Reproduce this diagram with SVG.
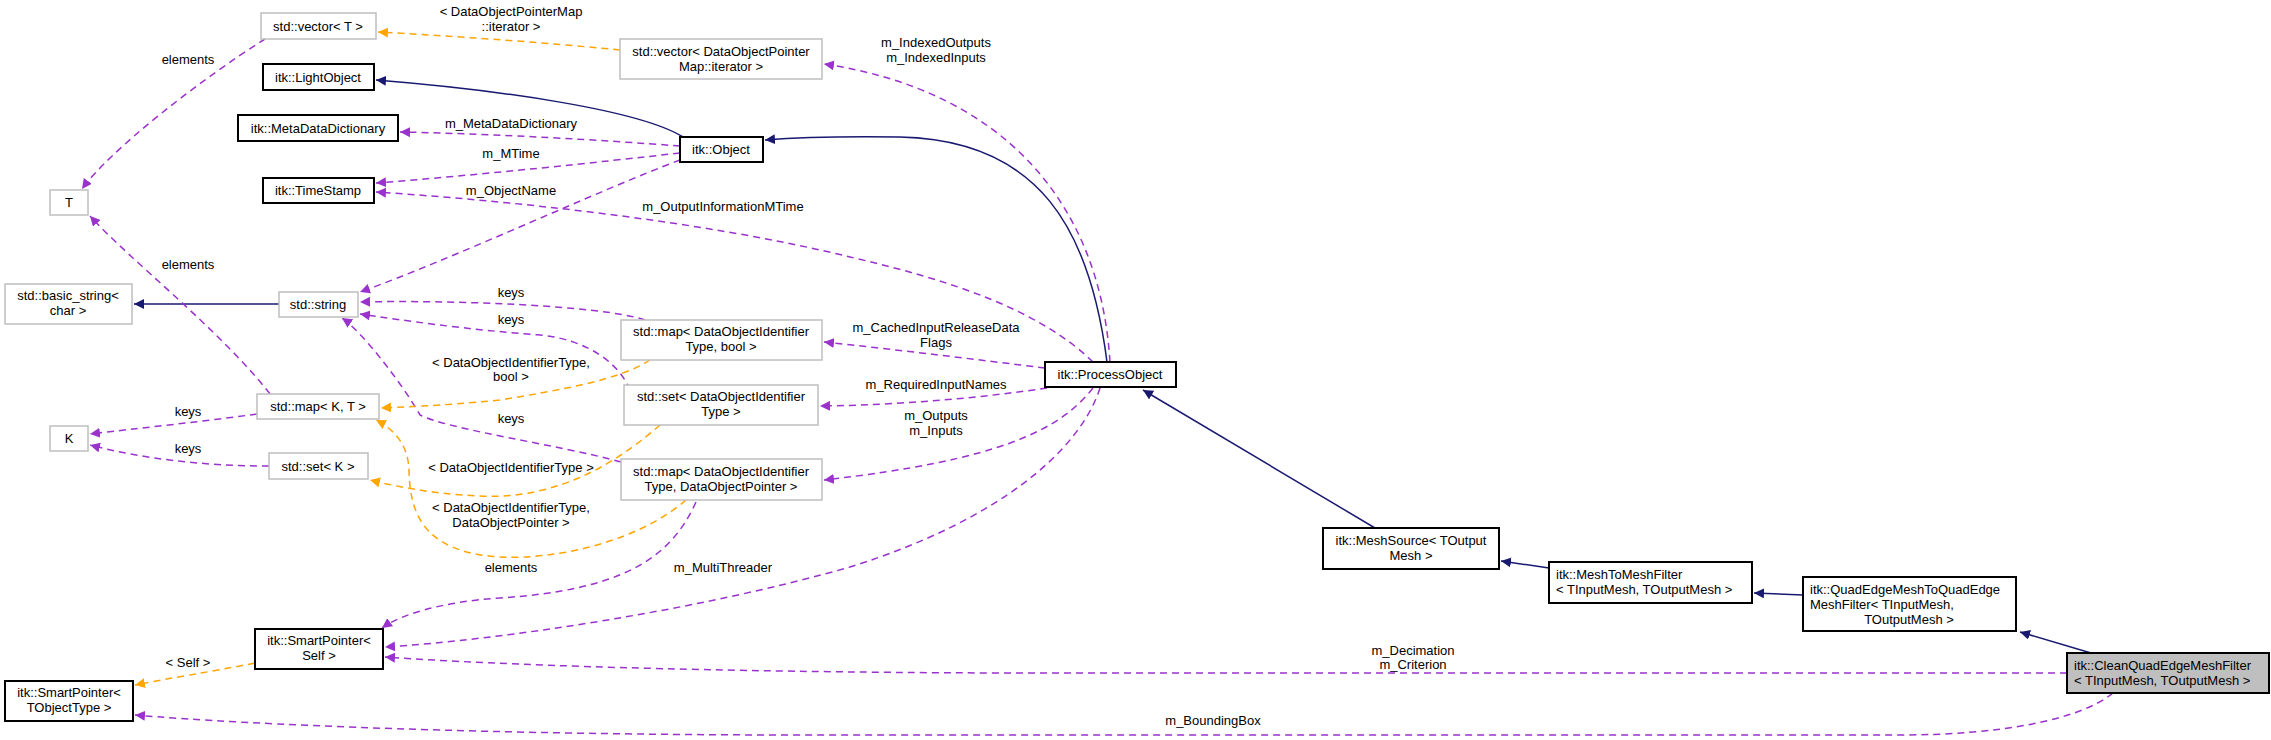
<svg xmlns="http://www.w3.org/2000/svg" width="2271" height="740" viewBox="0 0 2271 740">
<style>
text{font-family:"Liberation Sans",Arial,sans-serif;font-size:13px;fill:#000}
.m{text-anchor:middle}
.b rect{fill:#fff;stroke:#000;stroke-width:2}
.g rect{fill:#fff;stroke:#bfbfbf;stroke-width:1.5}
.inh{fill:none;stroke:#191970;stroke-width:1.5;marker-end:url(#an)}
.use{fill:none;stroke:#9a32cd;stroke-width:1.5;stroke-dasharray:7,5;marker-end:url(#ap)}
.tpl{fill:none;stroke:#ffa500;stroke-width:1.5;stroke-dasharray:7,5;marker-end:url(#ao)}
</style>
<defs>
<marker id="an" viewBox="0 0 10 10" refX="10" refY="5" markerWidth="10" markerHeight="10" markerUnits="userSpaceOnUse" orient="auto"><path d="M0,0L10,5L0,10z" fill="#191970"/></marker>
<marker id="ap" viewBox="0 0 10 10" refX="10" refY="5" markerWidth="10" markerHeight="10" markerUnits="userSpaceOnUse" orient="auto"><path d="M0,0L10,5L0,10z" fill="#9a32cd"/></marker>
<marker id="ao" viewBox="0 0 10 10" refX="10" refY="5" markerWidth="10" markerHeight="10" markerUnits="userSpaceOnUse" orient="auto"><path d="M0,0L10,5L0,10z" fill="#ffa500"/></marker>
</defs>
<rect width="2271" height="740" fill="#fff"/>
<g id="connectors">
<path class="inh" d="M683,137 C640,110 500,90 376,80"/>
<path class="inh" d="M1107,362 C1090,230 1040,140 900,137 C830,136 790,138 765,140"/>
<path class="inh" d="M1375,528 L1143,390"/>
<path class="inh" d="M1549,568 L1501,561"/>
<path class="inh" d="M1803,595 L1754,593"/>
<path class="inh" d="M2091,653 L2020,632"/>
<path class="inh" d="M279,304 L134,304"/>
<path class="use" d="M680,146 C600,140 500,134 400,132"/>
<path class="use" d="M680,153 C600,162 480,175 376,183"/>
<path class="use" d="M1093,362 C1040,310 950,280 850,257 C700,220 500,200 376,192"/>
<path class="use" d="M680,160 C600,190 450,260 360,292"/>
<path class="use" d="M1110,362 C1100,200 1000,90 824,64"/>
<path class="tpl" d="M620,50 C540,42 450,36 378,32"/>
<path class="use" d="M265,39 C200,80 110,150 82,189"/>
<path class="use" d="M270,394 C220,330 130,260 90,216"/>
<path class="use" d="M257,414 C200,422 140,428 90,434"/>
<path class="use" d="M269,466 C200,466 140,458 90,445"/>
<path class="use" d="M645,320 C600,305 450,300 360,302"/>
<path class="use" d="M630,390 C620,365 590,340 540,335 C470,330 400,320 360,314"/>
<path class="use" d="M621,462 C560,445 450,430 420,415 C400,380 360,330 342,318"/>
<path class="tpl" d="M650,360 C620,380 560,390 500,400 C440,406 400,407 381,408"/>
<path class="tpl" d="M660,425 C620,460 560,500 480,496 C430,494 390,485 370,480"/>
<path class="tpl" d="M686,500 C640,540 560,560 500,557 C420,552 410,510 409,470 C408,445 395,430 376,420"/>
<path class="use" d="M696,502 C670,560 620,590 500,598 C440,602 400,615 382,628"/>
<path class="use" d="M1100,388 C1080,450 1000,520 850,567 C700,610 500,640 385,647"/>
<path class="use" d="M1045,368 C980,360 900,350 824,342"/>
<path class="use" d="M1047,388 C980,398 900,405 820,406"/>
<path class="use" d="M1093,388 C1060,430 1000,460 824,480"/>
<path class="use" d="M2067,673 L1000,673 C700,672 500,665 385,657"/>
<path class="use" d="M2113,693 C2080,720 2000,735 1900,735 L800,735 C500,735 250,725 135,715"/>
<path class="tpl" d="M255,663 C210,672 170,678 135,685"/>
</g>
<g id="labels">
<text class="m" x="511" y="16">&lt; DataObjectPointerMap</text>
<text class="m" x="511" y="31">::iterator &gt;</text>
<text class="m" x="188" y="64">elements</text>
<text class="m" x="936" y="47">m_IndexedOutputs</text>
<text class="m" x="936" y="62">m_IndexedInputs</text>
<text class="m" x="511" y="128">m_MetaDataDictionary</text>
<text class="m" x="511" y="158">m_MTime</text>
<text class="m" x="511" y="195">m_ObjectName</text>
<text class="m" x="723" y="211">m_OutputInformationMTime</text>
<text class="m" x="188" y="269">elements</text>
<text class="m" x="511" y="297">keys</text>
<text class="m" x="511" y="324">keys</text>
<text class="m" x="936" y="332">m_CachedInputReleaseData</text>
<text class="m" x="936" y="347">Flags</text>
<text class="m" x="511" y="367">&lt; DataObjectIdentifierType,</text>
<text class="m" x="511" y="381">bool &gt;</text>
<text class="m" x="936" y="389">m_RequiredInputNames</text>
<text class="m" x="188" y="416">keys</text>
<text class="m" x="511" y="423">keys</text>
<text class="m" x="936" y="420">m_Outputs</text>
<text class="m" x="936" y="435">m_Inputs</text>
<text class="m" x="188" y="453">keys</text>
<text class="m" x="511" y="472">&lt; DataObjectIdentifierType &gt;</text>
<text class="m" x="511" y="512">&lt; DataObjectIdentifierType,</text>
<text class="m" x="511" y="527">DataObjectPointer &gt;</text>
<text class="m" x="511" y="572">elements</text>
<text class="m" x="723" y="572">m_MultiThreader</text>
<text class="m" x="1413" y="655">m_Decimation</text>
<text class="m" x="1413" y="669">m_Criterion</text>
<text class="m" x="188" y="667">&lt; Self &gt;</text>
<text class="m" x="1213" y="725">m_BoundingBox</text>
</g>
<g id="n_vectorT" class="g"><rect x="261" y="13" width="115" height="26"/><text class="m" x="318" y="31">std::vector&lt; T &gt;</text></g>
<g id="n_vectorDOPM" class="g"><rect x="620" y="39" width="202" height="40"/><text class="m" x="721" y="56">std::vector&lt; DataObjectPointer</text><text class="m" x="721" y="71">Map::iterator &gt;</text></g>
<g id="n_LightObject" class="b"><rect x="263" y="64" width="111" height="26"/><text class="m" x="318" y="82">itk::LightObject</text></g>
<g id="n_MDD" class="b"><rect x="238" y="115" width="160" height="26"/><text class="m" x="318" y="133">itk::MetaDataDictionary</text></g>
<g id="n_Object" class="b"><rect x="680" y="137" width="83" height="25"/><text class="m" x="721" y="154">itk::Object</text></g>
<g id="n_TimeStamp" class="b"><rect x="263" y="178" width="111" height="25"/><text class="m" x="318" y="195">itk::TimeStamp</text></g>
<g id="n_T" class="g"><rect x="50" y="190" width="38" height="25"/><text class="m" x="69" y="207">T</text></g>
<g id="n_basic_string" class="g"><rect x="5" y="284" width="127" height="40"/><text class="m" x="68" y="300">std::basic_string&lt;</text><text class="m" x="68" y="315">char &gt;</text></g>
<g id="n_string" class="g"><rect x="279" y="292" width="79" height="25"/><text class="m" x="318" y="309">std::string</text></g>
<g id="n_mapBool" class="g"><rect x="621" y="320" width="201" height="40"/><text class="m" x="721" y="336">std::map&lt; DataObjectIdentifier</text><text class="m" x="721" y="351">Type, bool &gt;</text></g>
<g id="n_ProcessObject" class="b"><rect x="1045" y="362" width="131" height="25"/><text class="m" x="1110" y="379">itk::ProcessObject</text></g>
<g id="n_setDOI" class="g"><rect x="624" y="385" width="194" height="40"/><text class="m" x="721" y="401">std::set&lt; DataObjectIdentifier</text><text class="m" x="721" y="416">Type &gt;</text></g>
<g id="n_mapKT" class="g"><rect x="257" y="394" width="122" height="25"/><text class="m" x="318" y="411">std::map&lt; K, T &gt;</text></g>
<g id="n_K" class="g"><rect x="50" y="426" width="38" height="25"/><text class="m" x="69" y="443">K</text></g>
<g id="n_setK" class="g"><rect x="269" y="453" width="99" height="26"/><text class="m" x="318" y="471">std::set&lt; K &gt;</text></g>
<g id="n_mapDOP" class="g"><rect x="621" y="459" width="201" height="41"/><text class="m" x="721" y="476">std::map&lt; DataObjectIdentifier</text><text class="m" x="721" y="491">Type, DataObjectPointer &gt;</text></g>
<g id="n_MeshSource" class="b"><rect x="1323" y="528" width="176" height="41"/><text class="m" x="1411" y="545">itk::MeshSource&lt; TOutput</text><text class="m" x="1411" y="560">Mesh &gt;</text></g>
<g id="n_MeshToMesh" class="b"><rect x="1549" y="562" width="203" height="41"/><text x="1556" y="579">itk::MeshToMeshFilter</text><text x="1556" y="594">&lt; TInputMesh, TOutputMesh &gt;</text></g>
<g id="n_QuadEdge" class="b"><rect x="1803" y="577" width="213" height="54"/><text x="1810" y="594">itk::QuadEdgeMeshToQuadEdge</text><text x="1810" y="609">MeshFilter&lt; TInputMesh,</text><text class="m" x="1909" y="624">TOutputMesh &gt;</text></g>
<g id="n_Clean"><rect x="2067" y="653" width="202" height="40" fill="#bfbfbf" stroke="#000" stroke-width="2"/><text x="2074" y="670">itk::CleanQuadEdgeMeshFilter</text><text x="2074" y="685">&lt; TInputMesh, TOutputMesh &gt;</text></g>
<g id="n_SPSelf" class="b"><rect x="255" y="629" width="128" height="40"/><text class="m" x="319" y="645">itk::SmartPointer&lt;</text><text class="m" x="319" y="660">Self &gt;</text></g>
<g id="n_SPT" class="b"><rect x="5" y="681" width="128" height="40"/><text class="m" x="69" y="697">itk::SmartPointer&lt;</text><text class="m" x="69" y="712">TObjectType &gt;</text></g>
</svg>
